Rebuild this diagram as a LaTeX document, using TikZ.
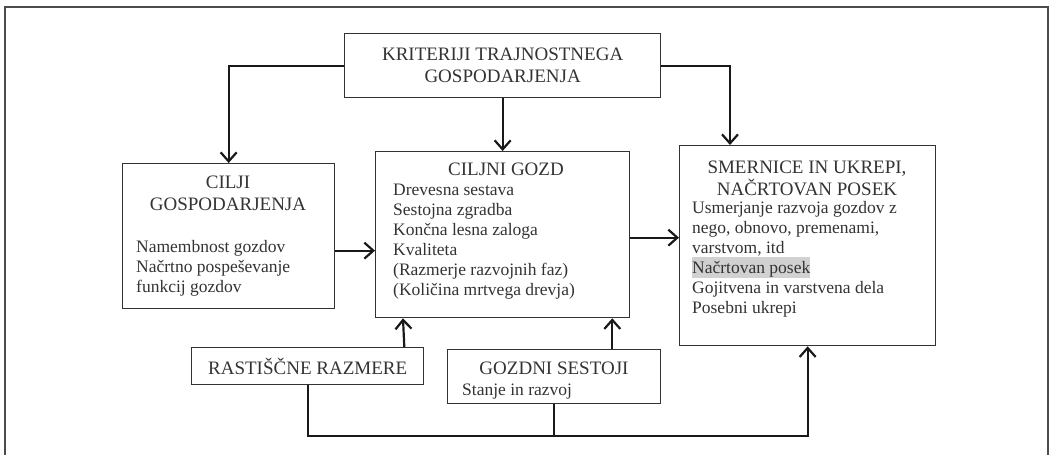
\documentclass[tikz,border=0pt]{standalone}
\usepackage{fontspec}
\setmainfont{Liberation Serif}
\usetikzlibrary{arrows.meta, calc}

\definecolor{hlgray}{gray}{0.82}
\tikzset{
box/.style={draw=black!80, line width=1.3pt, inner sep=0pt, anchor=north west},
link/.style={line width=2.2pt, draw=black!90,
-{Straight Barb[length=9pt, width=16pt, line width=2.2pt]}},
title/.style={font=\fontsize{19}{22}\selectfont, text=black!80, align=center, inner sep=0pt},
body/.style={font=\fontsize{17.5}{20}\selectfont, text=black!80, align=left, inner sep=0pt, anchor=base west}
}

\begin{document}
\begin{tikzpicture}[x=1pt, y=-1pt]
\useasboundingbox (0, 0) rectangle (1058, 455);
\begin{scope}
\clip (0, 0) rectangle (1058, 455);
\draw[black!70, line width=1.4pt] (5, 7) rectangle (1048, 480);
\end{scope}

% top
\node[box, minimum width=316pt, minimum height=64pt] (krit) at (344, 33) {};
\node[title] (kritT) at (krit) {KRITERIJI TRAJNOSTNEGA\\GOSPODARJENJA};

% left (base = last line)
\node[box, minimum width=212pt, minimum height=145pt] (cilji) at (122, 163) {};
\node[title, anchor=base] (ciljiT) at (228, 210) {CILJI\\GOSPODARJENJA};
\node[body] (ciljiB) at (136, 292) {Namembnost gozdov\\Načrtno pospeševanje\\funkcij gozdov};

% middle
\node[box, minimum width=254pt, minimum height=166pt] (gozd) at (375, 151) {};
\node[title, anchor=base] (gozdT) at (506, 175) {CILJNI GOZD};
\node[body] (gozdB) at (393, 295) {Drevesna sestava\\Sestojna zgradba\\Končna lesna zaloga\\Kvaliteta\\(Razmerje razvojnih faz)\\(Količina mrtvega drevja)};

% right
\node[box, minimum width=256pt, minimum height=200pt] (smer) at (679, 145) {};
\node[title, anchor=base] (smerT) at (807, 195) {SMERNICE IN UKREPI,\\NAČRTOVAN POSEK};
\node[body] (smerB) at (692, 313) {Usmerjanje razvoja gozdov z\\nego, obnovo, premenami,\\varstvom, itd\\{\setlength{\fboxsep}{0pt}\colorbox{hlgray}{\rule[-5pt]{0pt}{21pt}Načrtovan posek}}\\Gojitvena in varstvena dela\\Posebni ukrepi};

% bottom
\node[box, minimum width=232pt, minimum height=37pt] (rast) at (191, 347) {};
\node[title] (rastT) at (rast) {RASTIŠČNE RAZMERE};
\node[box, minimum width=213pt, minimum height=54pt] (sest) at (447, 349) {};
\node[title, anchor=base] (sestT) at (554, 374) {GOZDNI SESTOJI};
\node[body] (sestB) at (462, 395) {Stanje in razvoj};

% arrows from the top box
\draw[link] (krit.west) -| (cilji.north);
\draw[link] (krit.south) -- (gozd.north);
\draw[link] (krit.east) -| ($(smer.north west)+(51, 0)$);

% arrows into the target forest and on to the measures
\draw[link] ($(cilji.east)+(0, 14.5)$) -- ($(gozd.west)+(0, 16)$);
\draw[link] ($(gozd.east)+(0, 3)$) -- ($(smer.west)+(0, -8)$);
\draw[link] ($(rast.north east)+(-20, 0)$) -- ($(gozd.south west)+(28, 0)$);
\draw[link] ($(sest.north east)+(-49, 0)$) -- ($(gozd.south east)+(-18, 0)$);

% bottom connection
\draw[link] (rast.south) -- ++(0, 51) -| (smer.south);
\draw[line width=2.2pt, draw=black!90] (sest.south) -- ++(0, 32);
\end{tikzpicture}
\end{document}
